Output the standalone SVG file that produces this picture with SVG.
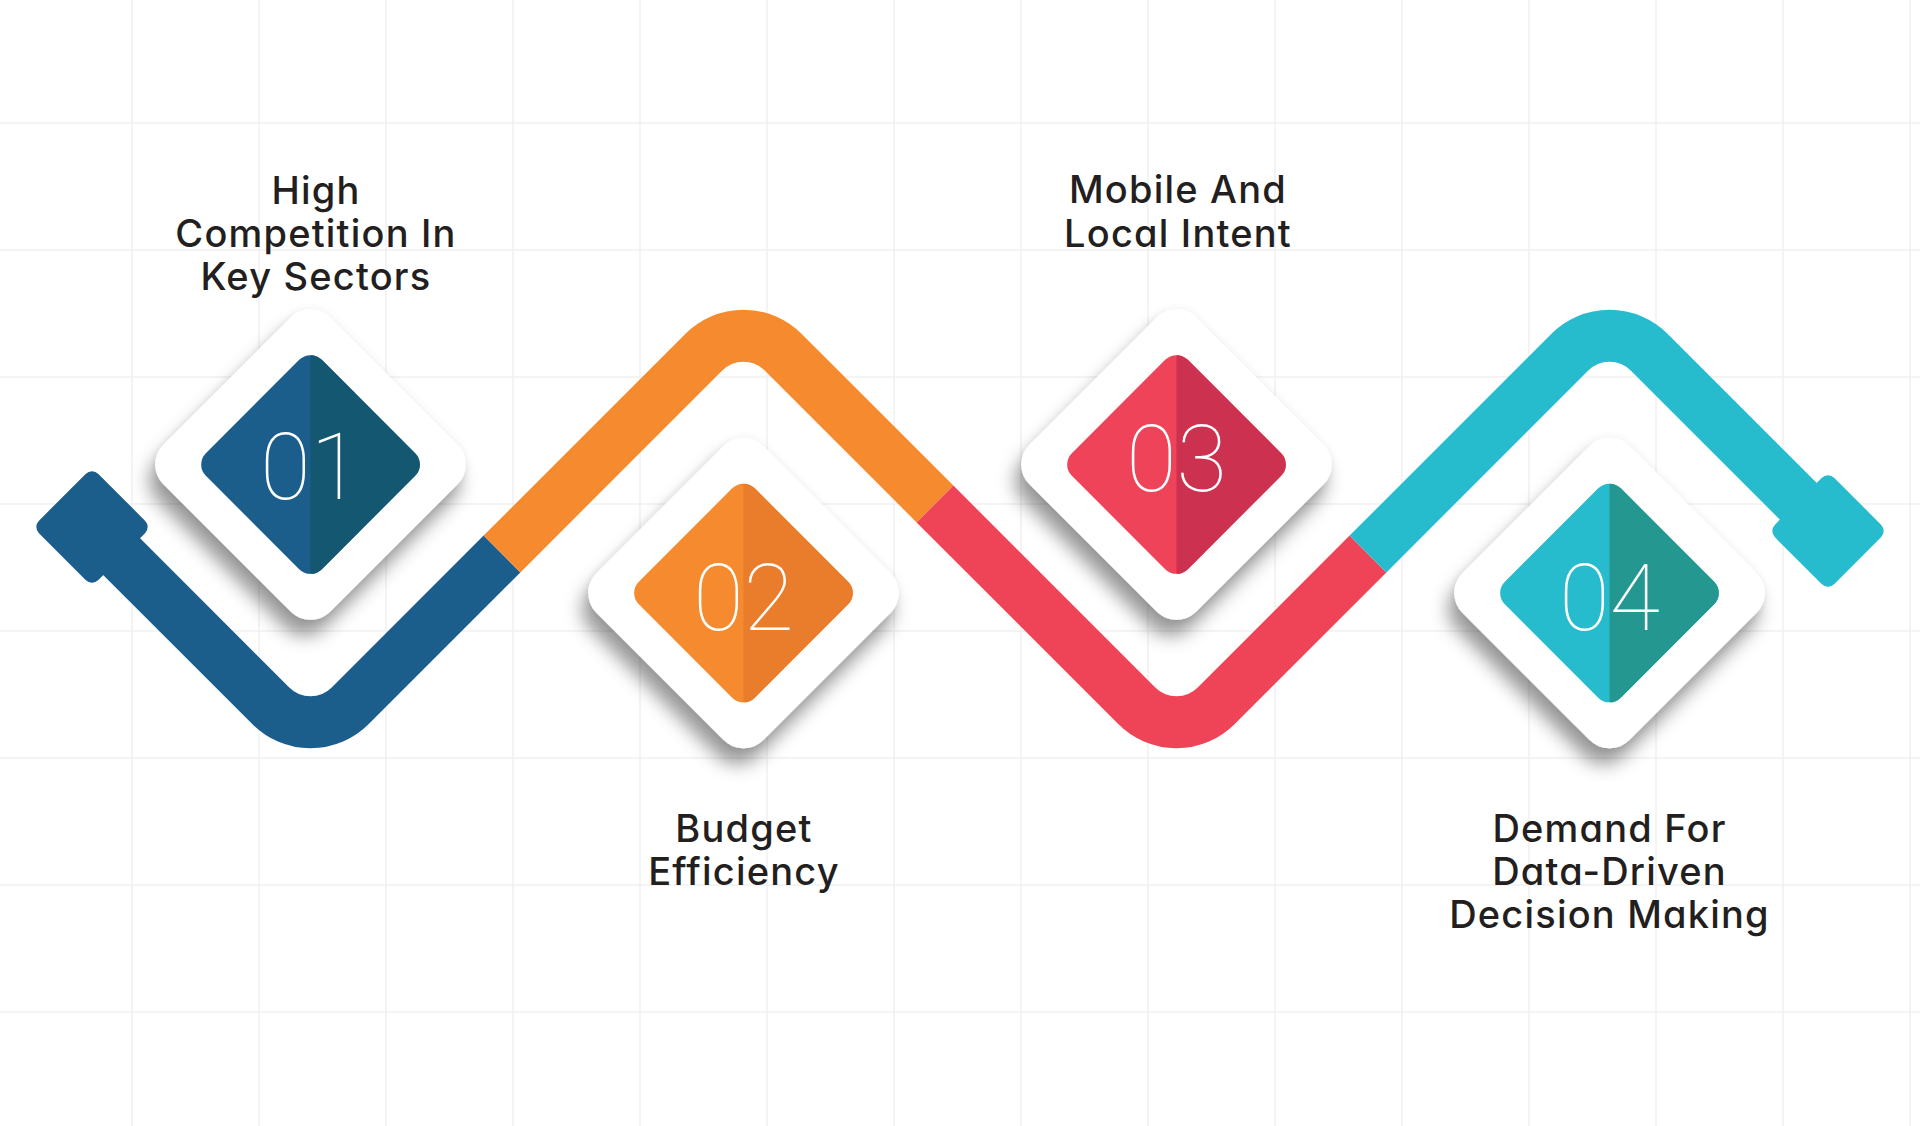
<svg xmlns="http://www.w3.org/2000/svg" width="1920" height="1126" viewBox="0 0 1920 1126">
<defs>
<style>
.grid line{stroke:#f1f1f1;stroke-width:1.5}
.trk{fill:none;stroke-width:52;stroke-linecap:butt;stroke-linejoin:round}
.lbl{font-family:Inter,"Liberation Sans",sans-serif;font-weight:500;font-size:38px;letter-spacing:1.2px;fill:#231f20;text-anchor:middle;font-feature-settings:"cv11" 1}
.num{font-family:Roboto,"Liberation Sans",sans-serif;font-weight:100;font-size:92px;fill:#ffffff;text-anchor:middle}
.frame{fill:#ffffff}
</style>
<filter id="sh" x="-40%" y="-40%" width="180%" height="180%">
<feGaussianBlur in="SourceAlpha" stdDeviation="9" result="b1"/>
<feOffset in="b1" dx="-6" dy="16" result="o1"/>
<feFlood flood-color="#000" flood-opacity="0.4"/>
<feComposite in2="o1" operator="in" result="s1"/>
<feGaussianBlur in="SourceAlpha" stdDeviation="4" result="b2"/>
<feFlood flood-color="#000" flood-opacity="0.07"/>
<feComposite in2="b2" operator="in" result="s2"/>
<feMerge><feMergeNode in="s2"/><feMergeNode in="s1"/><feMergeNode in="SourceGraphic"/></feMerge>
</filter>
<clipPath id="rh" clipPathUnits="userSpaceOnUse"><rect x="0" y="-200" width="200" height="400"/></clipPath>
<rect id="fr" x="-118" y="-118" width="236" height="236" rx="28" transform="rotate(45)"/>
<rect id="dm" x="-82" y="-82" width="164" height="164" rx="16" transform="rotate(45)"/>
<rect id="cap" x="-42" y="-42" width="84" height="84" rx="9" transform="rotate(45)"/>
</defs>
<rect width="1920" height="1126" fill="#ffffff"/>
<g class="grid">
<line x1="132" y1="0" x2="132" y2="1126"/><line x1="259" y1="0" x2="259" y2="1126"/><line x1="386" y1="0" x2="386" y2="1126"/><line x1="513" y1="0" x2="513" y2="1126"/><line x1="640" y1="0" x2="640" y2="1126"/><line x1="767" y1="0" x2="767" y2="1126"/><line x1="894" y1="0" x2="894" y2="1126"/><line x1="1021" y1="0" x2="1021" y2="1126"/><line x1="1148" y1="0" x2="1148" y2="1126"/><line x1="1275" y1="0" x2="1275" y2="1126"/><line x1="1402" y1="0" x2="1402" y2="1126"/><line x1="1529" y1="0" x2="1529" y2="1126"/><line x1="1656" y1="0" x2="1656" y2="1126"/><line x1="1783" y1="0" x2="1783" y2="1126"/><line x1="1910" y1="0" x2="1910" y2="1126"/>
<line x1="0" y1="123" x2="1920" y2="123"/><line x1="0" y1="250" x2="1920" y2="250"/><line x1="0" y1="377" x2="1920" y2="377"/><line x1="0" y1="504" x2="1920" y2="504"/><line x1="0" y1="631" x2="1920" y2="631"/><line x1="0" y1="758" x2="1920" y2="758"/><line x1="0" y1="885" x2="1920" y2="885"/><line x1="0" y1="1012" x2="1920" y2="1012"/>
</g>
<g id="connectors">
<use href="#cap" transform="translate(92,527)" fill="#1b5e8c"/>
<path class="trk" stroke="#1b5e8c" d="M92,527 L270.9,705.9 A56,56 0 0 0 350.1,705.9 L502,554"/>
<path class="trk" stroke="#f58b2e" d="M502,554 L703.9,352.1 A56,56 0 0 1 783.1,352.1 L935,504"/>
<path class="trk" stroke="#ef4457" d="M935,504 L1136.9,705.9 A56,56 0 0 0 1216.1,705.9 L1368,554"/>
<path class="trk" stroke="#26bccd" d="M1368,554 L1569.9,352.1 A56,56 0 0 1 1649.1,352.1 L1828,531"/>
<use href="#cap" transform="translate(1828,531)" fill="#26bccd"/>
</g>
<g id="node-01">
<g transform="translate(310.5,464.5)">
<g filter="url(#sh)"><use href="#fr" class="frame"/></g>
<use href="#dm" fill="#1b5e8c"/>
<g clip-path="url(#rh)"><use href="#dm" fill="#135770"/></g>
</g>
<text class="num" x="310.5" y="499">01</text>
<text class="lbl" x="316" y="204">High</text>
<text class="lbl" x="316" y="247">Competition In</text>
<text class="lbl" x="316" y="290">Key Sectors</text>
</g>
<g id="node-02">
<g transform="translate(743.5,593)">
<g filter="url(#sh)"><use href="#fr" class="frame"/></g>
<use href="#dm" fill="#f58b2e"/>
<g clip-path="url(#rh)"><use href="#dm" fill="#e97d2b"/></g>
</g>
<text class="num" x="743.5" y="630">02</text>
<text class="lbl" x="744" y="842">Budget</text>
<text class="lbl" x="744" y="885">Efficiency</text>
</g>
<g id="node-03">
<g transform="translate(1176.5,464.5)">
<g filter="url(#sh)"><use href="#fr" class="frame"/></g>
<use href="#dm" fill="#ee4358"/>
<g clip-path="url(#rh)"><use href="#dm" fill="#cd3150"/></g>
</g>
<text class="num" x="1176.5" y="491">03</text>
<text class="lbl" x="1178" y="203">Mobile And</text>
<text class="lbl" x="1178" y="247">Local Intent</text>
</g>
<g id="node-04">
<g transform="translate(1609.5,593)">
<g filter="url(#sh)"><use href="#fr" class="frame"/></g>
<use href="#dm" fill="#26bccd"/>
<g clip-path="url(#rh)"><use href="#dm" fill="#249791"/></g>
</g>
<text class="num" x="1609.5" y="630">04</text>
<text class="lbl" x="1609.5" y="842">Demand For</text>
<text class="lbl" x="1609.5" y="885">Data-Driven</text>
<text class="lbl" x="1609.5" y="928">Decision Making</text>
</g>
</svg>
